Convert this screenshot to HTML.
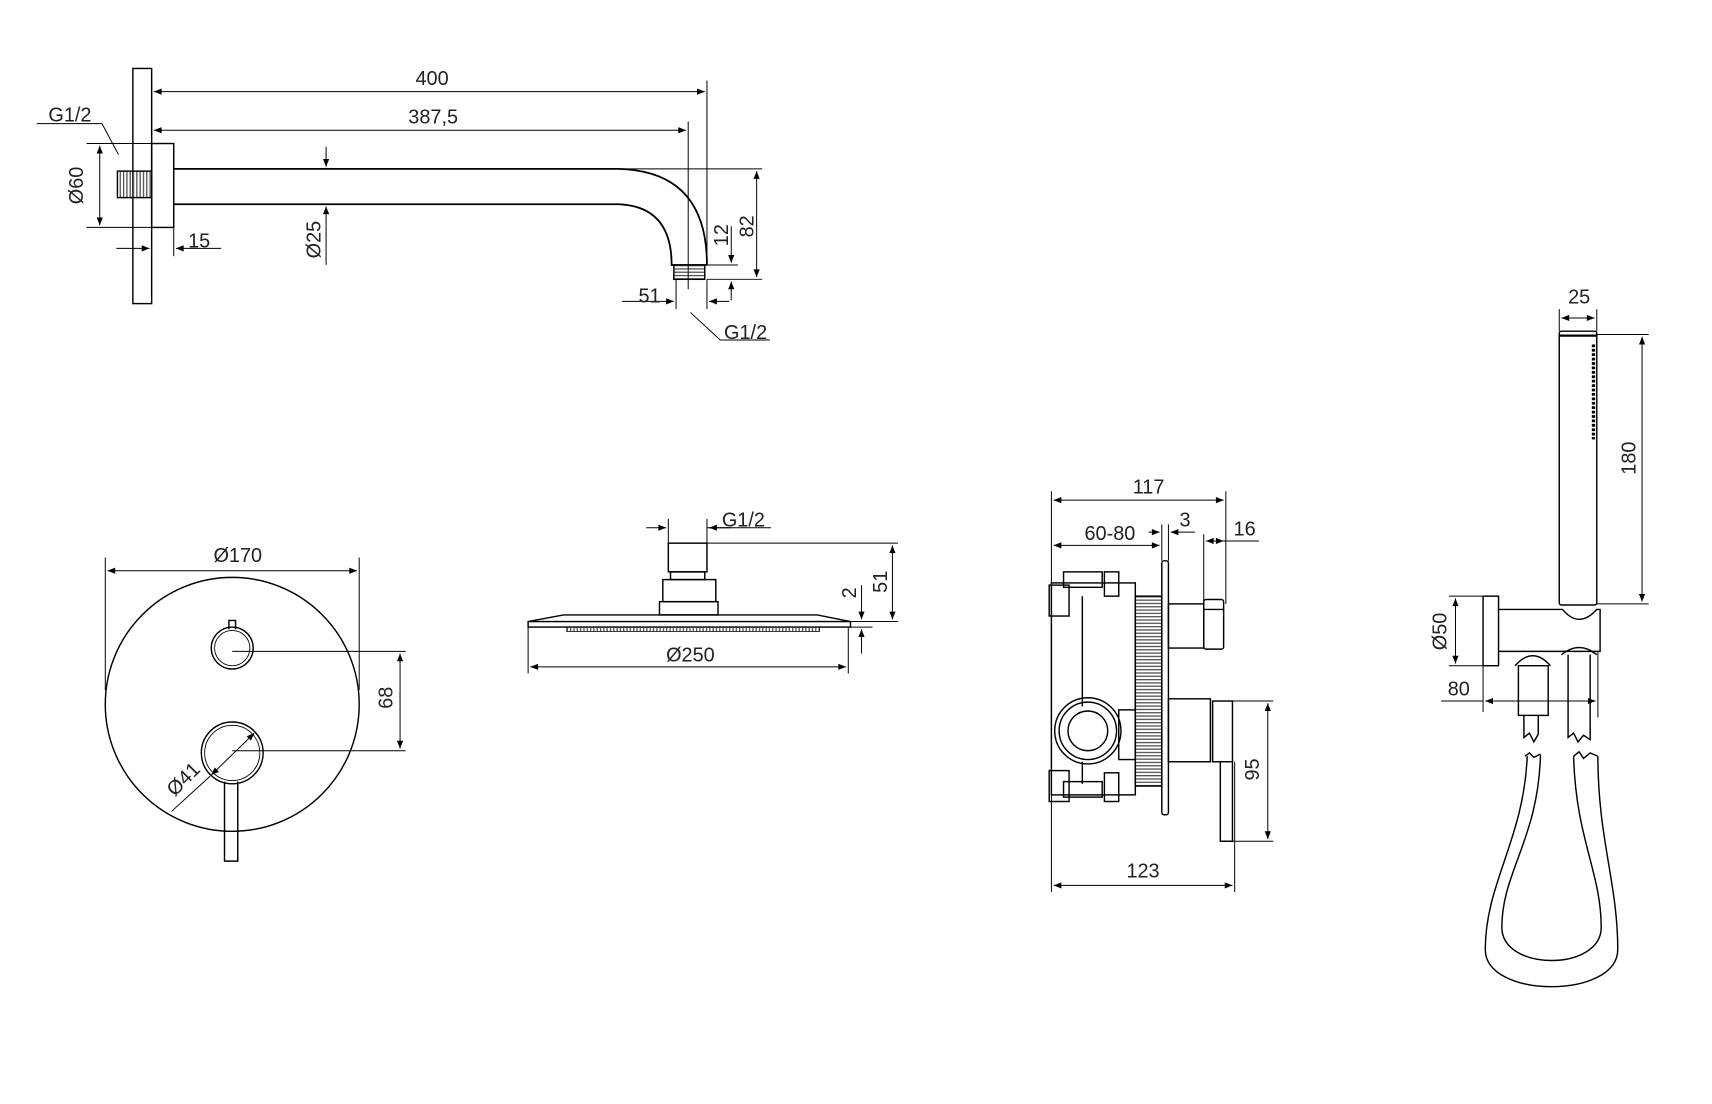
<!DOCTYPE html>
<html><head><meta charset="utf-8"><style>
html,body{margin:0;padding:0;background:#fff;}
svg{display:block}
text{font-family:"Liberation Sans",sans-serif;font-size:18px;fill:#222;}
</style></head><body>
<svg width="1712" height="1104" viewBox="0 0 1550 1000" xmlns="http://www.w3.org/2000/svg">
<defs>
<marker id="a" viewBox="0 0 10 10" refX="10" refY="5" markerWidth="9" markerHeight="7" orient="auto-start-reverse" markerUnits="userSpaceOnUse"><path d="M0,1 L10,5 L0,9 z" fill="#000"/></marker>
<pattern id="thr" width="3" height="3" patternUnits="userSpaceOnUse"><rect width="3" height="1.2" fill="#555"/></pattern>
<pattern id="thv" width="3" height="3" patternUnits="userSpaceOnUse"><rect width="1.2" height="3" fill="#555"/></pattern>
</defs>
<g fill="none" stroke="#000" stroke-width="1.3">
<!-- ===== Shower arm ===== -->
<rect x="120" y="62" width="17" height="213"/>
<rect x="137" y="130" width="20" height="76"/>
<rect x="106" y="155" width="31" height="24" fill="url(#thv)"/>
<path d="M157,153 H560 Q640,155 640,240" stroke-width="1.6"/>
<path d="M157,185 H560 Q608,187 608,240 H640" stroke-width="1.6"/>
<rect x="610" y="240" width="28" height="13" fill="url(#thr)"/>
<g stroke-width="0.9">
<line x1="137" y1="75" x2="137" y2="130"/>
<line x1="640" y1="73" x2="640" y2="240"/>
<line x1="623" y1="110" x2="623" y2="262"/>
<line x1="139" y1="83" x2="638" y2="83" marker-start="url(#a)" marker-end="url(#a)"/>
<line x1="139" y1="118" x2="621" y2="118" marker-start="url(#a)" marker-end="url(#a)"/>
<line x1="33" y1="112" x2="92" y2="112"/><line x1="92" y1="112" x2="107" y2="140"/>
<line x1="78" y1="130" x2="137" y2="130"/><line x1="78" y1="206" x2="137" y2="206"/>
<line x1="90" y1="132" x2="90" y2="204" marker-start="url(#a)" marker-end="url(#a)"/>
<line x1="105" y1="225" x2="135" y2="225" marker-end="url(#a)"/>
<line x1="200" y1="225" x2="159" y2="225" marker-end="url(#a)"/>
<line x1="157" y1="206" x2="157" y2="232"/>
<line x1="295" y1="133" x2="295" y2="151" marker-end="url(#a)"/>
<line x1="295" y1="240" x2="295" y2="187" marker-end="url(#a)"/>
<line x1="560" y1="153" x2="690" y2="153"/>
<line x1="640" y1="240" x2="668" y2="240"/>
<line x1="640" y1="253" x2="690" y2="253"/>
<line x1="662" y1="205" x2="662" y2="238" marker-end="url(#a)"/>
<line x1="662" y1="272" x2="662" y2="255" marker-end="url(#a)"/>
<line x1="685" y1="155" x2="685" y2="251" marker-start="url(#a)" marker-end="url(#a)"/>
<line x1="563" y1="273" x2="610" y2="273" marker-end="url(#a)"/>
<line x1="660" y1="273" x2="642" y2="273" marker-end="url(#a)"/>
<line x1="612" y1="253" x2="612" y2="280"/><line x1="640" y1="253" x2="640" y2="280"/>
<line x1="625" y1="283" x2="652" y2="308"/><line x1="652" y1="308" x2="697" y2="308"/>
</g>
<!-- ===== Mixer plate ===== -->
<circle cx="210" cy="638" r="115"/>
<circle cx="210" cy="587" r="19"/><circle cx="210" cy="587" r="16" stroke-width="0.8"/>
<path d="M207,570 V562 H213 V570"/>
<circle cx="210" cy="682" r="28"/><circle cx="210" cy="682" r="25" stroke-width="0.8"/>
<path d="M203,708 L203,780 H215 L215,708"/>
<g stroke-width="0.9">
<line x1="95" y1="505" x2="95" y2="625"/><line x1="325" y1="505" x2="325" y2="625"/>
<line x1="97" y1="517" x2="323" y2="517" marker-start="url(#a)" marker-end="url(#a)"/>
<line x1="210" y1="590" x2="367" y2="590"/><line x1="210" y1="680" x2="367" y2="680"/>
<line x1="362" y1="592" x2="362" y2="678" marker-start="url(#a)" marker-end="url(#a)"/>
<line x1="155" y1="735" x2="190" y2="703"/>
<line x1="191" y1="702" x2="230" y2="664" marker-start="url(#a)" marker-end="url(#a)"/>
</g>
<!-- ===== Rain shower ===== -->
<rect x="605" y="492" width="35" height="26"/>
<rect x="607" y="518" width="31" height="7"/>
<rect x="600" y="525" width="48" height="20"/>
<rect x="597" y="545" width="53" height="12"/>
<path d="M478,563 L510,557 H740 L770,563"/>
<rect x="478" y="563" width="292" height="5"/>
<path d="M513,568 h229 v4 h-229 z" fill="url(#thv)" stroke-width="0.6"/>
<g stroke-width="0.9">
<line x1="605" y1="470" x2="605" y2="492"/><line x1="640" y1="470" x2="640" y2="492"/>
<line x1="585" y1="478" x2="603" y2="478" marker-end="url(#a)"/>
<line x1="662" y1="478" x2="642" y2="478" marker-end="url(#a)"/>
<line x1="640" y1="478" x2="698" y2="478"/>
<line x1="640" y1="492" x2="813" y2="492"/>
<line x1="770" y1="563" x2="813" y2="563"/><line x1="770" y1="568" x2="790" y2="568"/>
<line x1="808" y1="494" x2="808" y2="561" marker-start="url(#a)" marker-end="url(#a)"/>
<line x1="780" y1="530" x2="780" y2="561" marker-end="url(#a)"/>
<line x1="780" y1="592" x2="780" y2="570" marker-end="url(#a)"/>
<line x1="478" y1="568" x2="478" y2="610"/><line x1="768" y1="568" x2="768" y2="610"/>
<line x1="480" y1="604" x2="766" y2="604" marker-start="url(#a)" marker-end="url(#a)"/>
</g>
<!-- ===== Valve body ===== -->
<rect x="952" y="528" width="76" height="192"/>
<rect x="950" y="530" width="18" height="28"/>
<rect x="950" y="698" width="18" height="28"/>
<rect x="963" y="518" width="35" height="14"/><rect x="1000" y="518" width="13" height="22"/>
<rect x="963" y="708" width="35" height="14"/><rect x="1000" y="700" width="13" height="26"/>
<line x1="980" y1="540" x2="980" y2="640"/><line x1="980" y1="690" x2="980" y2="710"/>
<circle cx="985" cy="662" r="30"/><circle cx="985" cy="662" r="26"/><circle cx="985" cy="662" r="18"/>
<rect x="1013" y="643" width="15" height="45"/>
<rect x="1028" y="540" width="24" height="172" fill="url(#thr)"/>
<rect x="1052" y="508" width="6" height="230" rx="2"/>
<rect x="1058" y="547" width="32" height="40"/>
<rect x="1090" y="543" width="18" height="45" rx="2"/>
<line x1="1090" y1="552" x2="1108" y2="552"/>
<rect x="1058" y="633" width="38" height="57"/>
<rect x="1098" y="635" width="18" height="55"/>
<path d="M1105,690 V762 H1116 V690"/>
<g stroke-width="0.9">
<line x1="952" y1="445" x2="952" y2="808"/>
<line x1="1110" y1="445" x2="1110" y2="547"/>
<line x1="954" y1="453" x2="1108" y2="453" marker-start="url(#a)" marker-end="url(#a)"/>
<line x1="954" y1="494" x2="1050" y2="494" marker-start="url(#a)" marker-end="url(#a)"/>
<line x1="1052" y1="475" x2="1052" y2="508"/><line x1="1058" y1="475" x2="1058" y2="508"/>
<line x1="1040" y1="482" x2="1050" y2="482" marker-end="url(#a)"/>
<line x1="1082" y1="482" x2="1060" y2="482" marker-end="url(#a)"/>
<line x1="1090" y1="484" x2="1090" y2="545"/>
<line x1="1092" y1="490" x2="1108" y2="490" marker-start="url(#a)" marker-end="url(#a)"/>
<line x1="1108" y1="490" x2="1140" y2="490"/>
<line x1="1098" y1="635" x2="1153" y2="635"/><line x1="1116" y1="762" x2="1153" y2="762"/>
<line x1="1148" y1="637" x2="1148" y2="760" marker-start="url(#a)" marker-end="url(#a)"/>
<line x1="1118" y1="690" x2="1118" y2="808"/>
<line x1="954" y1="802" x2="1116" y2="802" marker-start="url(#a)" marker-end="url(#a)"/>
</g>
<!-- ===== Hand shower ===== -->
<rect x="1412" y="300" width="34" height="248" rx="2"/>
<line x1="1412" y1="304" x2="1446" y2="304" stroke-width="2"/>
<line x1="1443" y1="312" x2="1443" y2="398" stroke-width="3" stroke-dasharray="2.5,1.5"/>
<rect x="1343" y="540" width="14" height="63"/>
<path d="M1357,552 H1415 Q1430,570 1446,552 H1449 V590 H1357"/>
<path d="M1372,603 Q1388,585 1404,603"/>
<path d="M1414,593 Q1430,580 1446,593"/>
<rect x="1375" y="603" width="27" height="45"/>
<path d="M1380,648 V668 L1385,664 L1389,672 L1393,665 V648"/>
<path d="M1420,593 V668 L1425,664 L1429,672 L1434,666 L1440,670 V593"/>
<path d="M1381,685 L1385,682 L1389,686 L1395,683" />
<path d="M1383,685 C1380,760 1345,800 1345,860 C1345,905 1465,905 1465,860 C1465,800 1447,760 1447,685"/>
<path d="M1395,684 C1393,760 1360,790 1360,840 C1360,880 1450,880 1450,840 C1450,790 1427,760 1425,685"/>
<path d="M1425,685 L1430,681 L1434,687 L1440,682 L1447,685"/>
<g stroke-width="0.9">
<line x1="1412" y1="280" x2="1412" y2="300"/><line x1="1446" y1="280" x2="1446" y2="300"/>
<line x1="1414" y1="288" x2="1444" y2="288" marker-start="url(#a)" marker-end="url(#a)"/>
<line x1="1446" y1="303" x2="1493" y2="303"/><line x1="1446" y1="547" x2="1493" y2="547"/>
<line x1="1487" y1="305" x2="1487" y2="545" marker-start="url(#a)" marker-end="url(#a)"/>
<line x1="1312" y1="540" x2="1343" y2="540"/><line x1="1312" y1="603" x2="1343" y2="603"/>
<line x1="1318" y1="542" x2="1318" y2="601" marker-start="url(#a)" marker-end="url(#a)"/>
<line x1="1343" y1="603" x2="1343" y2="645"/><line x1="1447" y1="590" x2="1447" y2="650"/>
<line x1="1305" y1="635" x2="1343" y2="635"/>
<line x1="1345" y1="635" x2="1445" y2="635" marker-start="url(#a)" marker-end="url(#a)"/>
</g>
</g>
<!-- text -->
<g>
<text x="391" y="77" text-anchor="middle">400</text>
<text x="392" y="112" text-anchor="middle">387,5</text>
<text x="63" y="110" text-anchor="middle">G1/2</text>
<text transform="translate(75,168) rotate(-90)" text-anchor="middle">Ø60</text>
<text x="180" y="224" text-anchor="middle">15</text>
<text transform="translate(290,217) rotate(-90)" text-anchor="middle">Ø25</text>
<text transform="translate(659,213) rotate(-90)" text-anchor="middle">12</text>
<text transform="translate(682,205) rotate(-90)" text-anchor="middle">82</text>
<text x="588" y="274" text-anchor="middle">51</text>
<text x="675" y="307" text-anchor="middle">G1/2</text>
<text x="215" y="509" text-anchor="middle">Ø170</text>
<text transform="translate(355,632) rotate(-90)" text-anchor="middle">68</text>
<text transform="translate(170,710) rotate(-45)" text-anchor="middle">Ø41</text>
<text x="673" y="477" text-anchor="middle">G1/2</text>
<text transform="translate(803,527) rotate(-90)" text-anchor="middle">51</text>
<text transform="translate(775,537) rotate(-90)" text-anchor="middle">2</text>
<text x="625" y="599" text-anchor="middle">Ø250</text>
<text x="1040" y="447" text-anchor="middle">117</text>
<text x="1005" y="489" text-anchor="middle">60-80</text>
<text x="1073" y="477" text-anchor="middle">3</text>
<text x="1127" y="485" text-anchor="middle">16</text>
<text transform="translate(1140,697) rotate(-90)" text-anchor="middle">95</text>
<text x="1035" y="795" text-anchor="middle">123</text>
<text x="1430" y="275" text-anchor="middle">25</text>
<text transform="translate(1481,415) rotate(-90)" text-anchor="middle">180</text>
<text transform="translate(1310,572) rotate(-90)" text-anchor="middle">Ø50</text>
<text x="1321" y="630" text-anchor="middle">80</text>
</g>
</svg>
</body></html>
